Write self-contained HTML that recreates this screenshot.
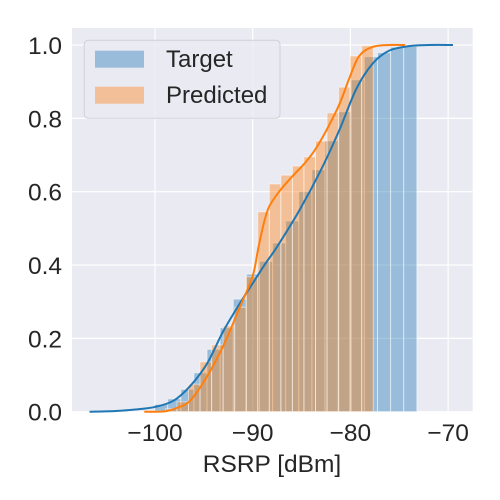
<!DOCTYPE html>
<html><head><meta charset="utf-8"><style>
body{margin:0;background:#fff;}
svg{display:block;font-family:"Liberation Sans",sans-serif;}
</style></head><body>
<svg id="chart" width="500" height="500" viewBox="0 0 500 500">
<rect x="72" y="28" width="400.7" height="383.7" fill="#eaeaf2"/>
<g id="grid"></g><g id="bars"></g><g id="lines"></g><g id="ticks"></g>
<text x="272" y="472" font-size="24.5" text-anchor="middle" fill="#262626">RSRP [dBm]</text>
<g>
<rect x="84.3" y="40.3" width="195.7" height="78" rx="4" fill="#eaeaf2" fill-opacity="0.8" stroke="#d0d0d8"/>
<rect x="95" y="50.7" width="49" height="17" fill="#1f77b4" fill-opacity="0.4"/>
<text x="166" y="67" font-size="24" fill="#262626">Target</text>
<rect x="95" y="86.7" width="49" height="17" fill="#ff7f0e" fill-opacity="0.4"/>
<text x="166" y="103" font-size="24" fill="#262626">Predicted</text>
</g>
</svg>
<script>
const xTicks = [-100, -90, -80, -70];
const yTicks = [0.0, 0.2, 0.4, 0.6, 0.8, 1.0];
const targetBinStart = -100.04, targetBinWidth = 1.342;
const targetBars = [0.02,0.035,0.061,0.106,0.17,0.229,0.307,0.375,0.41,0.46,0.52,0.60,0.66,0.739,0.818,0.905,0.968,0.979,0.994,0.996];
const predBinStart = -101.3, predBinWidth = 1.182;
const predBars = [0.001,0.002,0.008,0.027,0.075,0.136,0.182,0.234,0.285,0.368,0.545,0.621,0.645,0.67,0.695,0.738,0.815,0.885,0.97,0.998];
const targetCurveX = [-106.7,-104,-102,-100,-98.1,-96.4,-94.7,-93,-91.3,-90,-88.8,-87.5,-85.2,-83,-81.1,-79.4,-77.7,-76,-74,-72,-69.5];
const targetCurveY = [0,0.002,0.006,0.013,0.03,0.07,0.13,0.22,0.296,0.35,0.40,0.45,0.55,0.66,0.77,0.88,0.95,0.985,0.997,1.0,1.0];
const predCurveX = [-101.1,-99,-97.8,-96.4,-94.7,-93,-91.3,-90,-89.4,-88.8,-88.3,-87.3,-86,-84.6,-83.6,-82.4,-81.1,-80.1,-79.1,-77.7,-76,-74.4];
const predCurveY = [0,0.001,0.01,0.03,0.095,0.18,0.286,0.37,0.45,0.52,0.56,0.60,0.64,0.68,0.715,0.77,0.84,0.91,0.97,0.995,1.0,1.0];

const NS="http://www.w3.org/2000/svg";
const X = v => 155 + 9.77*(v+100);
const Y = v => 411.7 - 366.7*v;
function mk(tag, parent, attrs){const e=document.createElementNS(NS,tag);for(const k in attrs)e.setAttribute(k,attrs[k]);document.getElementById(parent).appendChild(e);return e;}
xTicks.forEach(t=>{
  const g=mk('line','grid',{x1:X(t),x2:X(t),y1:28,y2:411.7,stroke:'#fff','stroke-width':1.2});
  
  
  const l=mk('text','ticks',{x:X(t),y:441,'font-size':24.5,'text-anchor':'middle',fill:'#262626'});
  l.textContent=(t<0?'\u2212'+(-t):t);
  
  
});
yTicks.forEach(t=>{
  const g=mk('line','grid',{x1:72,x2:472.7,y1:Y(t),y2:Y(t),stroke:'#fff','stroke-width':1.2});
  
  
  const l=mk('text','ticks',{x:62,y:Y(t)+9,'font-size':24.5,'text-anchor':'end',fill:'#262626'});
  l.textContent=t.toFixed(1);
  
  
});
function drawBars(vals,start,w,color,name){
  vals.forEach((v,i)=>{
    const x0=X(start+i*w), x1=X(start+(i+1)*w);
    const r=mk('rect','bars',{x:x0,y:Y(v),width:x1-x0,height:Y(0)-Y(v),fill:color,'fill-opacity':0.4,stroke:'#ffffff','stroke-opacity':0.5,'stroke-width':1});
    
    
  });
}
drawBars(targetBars,targetBinStart,targetBinWidth,'#1f77b4','target-bar');
drawBars(predBars,predBinStart,predBinWidth,'#ff7f0e','predicted-bar');
function drawLine(xs,ys,color,name){
  const p=xs.map((x,i)=>[X(x),Y(ys[i])]);
  let d='M'+p[0][0]+','+p[0][1];
  for(let i=0;i<p.length-1;i++){
    const p0=p[i-1]||p[i],p1=p[i],p2=p[i+1],p3=p[i+2]||p2;
    const c1=[p1[0]+(p2[0]-p0[0])/6,p1[1]+(p2[1]-p0[1])/6];
    const c2=[p2[0]-(p3[0]-p1[0])/6,p2[1]-(p3[1]-p1[1])/6];
    d+=` C${c1[0]},${c1[1]} ${c2[0]},${c2[1]} ${p2[0]},${p2[1]}`;
  }
  const e=mk('path','lines',{d:d,fill:'none',stroke:color,'stroke-width':2});
  
  
}
drawLine(targetCurveX,targetCurveY,'#1f77b4','target-cdf-line');
drawLine(predCurveX,predCurveY,'#ff7f0e','predicted-cdf-line');
</script>
</body></html>
